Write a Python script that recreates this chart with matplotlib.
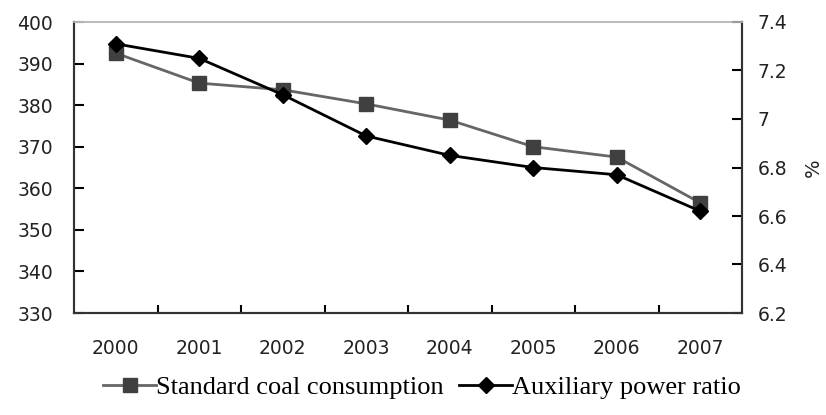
import matplotlib
matplotlib.use("Agg")
import matplotlib.pyplot as plt
import numpy as np

years = ['2000', '2001', '2002', '2003', '2004', '2005', '2006', '2007']
coal = [392.5, 385.3, 383.7, 380.3, 376.4, 370.0, 367.5, 356.5]
aux_ratio = [7.31, 7.25, 7.10, 6.93, 6.85, 6.80, 6.77, 6.62]

fig = plt.figure(figsize=(8.26, 4.15), dpi=100)
ax = fig.add_axes([74/826, 102/415, 668/826, 291/415])
ax2 = ax.twinx()

x = np.arange(len(years))
l1, = ax.plot(x, coal, color='#666666', lw=2, marker='s', ms=10,
              mfc='#404040', mec='#404040', label='Standard coal consumption')
l2, = ax2.plot(x, aux_ratio, color='black', lw=2, marker='D', ms=8,
               mfc='black', mec='black', label='Auxiliary power ratio')

ax.set_xlim(-0.5, 7.5)
ax.set_ylim(330, 400)
ax.set_yticks(np.arange(330, 401, 10))
ax2.set_ylim(6.2, 7.4)
ax2.set_yticks([6.2, 6.4, 6.6, 6.8, 7.0, 7.2, 7.4])
ax2.set_yticklabels(['6.2', '6.4', '6.6', '6.8', '7', '7.2', '7.4'])

ax.set_xticks(x)
ax.set_xticklabels(years)
ax.set_xticks(np.arange(0.5, 7.5, 1), minor=True)
ax.tick_params(axis='x', which='major', length=0, pad=19)
ax.tick_params(axis='x', which='minor', length=6, direction='in', width=1.5)

for lab in ax.get_xticklabels() + ax.get_yticklabels() + ax2.get_yticklabels():
    lab.set_fontfamily('DejaVu Sans')
    lab.set_fontsize(13.5)
    lab.set_color('#222222')
ax.tick_params(axis='y', direction='in', length=7, width=1.5, pad=15)
ax2.tick_params(axis='y', direction='in', length=7, width=1.5, pad=11)

for a in (ax, ax2):
    for s in ('left', 'bottom', 'right'):
        a.spines[s].set_linewidth(1.5)
        a.spines[s].set_color('#333333')
    a.spines['top'].set_color('#bbbbbb')
    a.spines['top'].set_linewidth(1.2)

ax2.set_ylabel('%', fontsize=14, family='DejaVu Sans', labelpad=12, color='#222222')

fig.legend(handles=[l1, l2], loc='center', bbox_to_anchor=(0.511, 0.067),
           ncol=2, frameon=False, handlelength=2.0, handletextpad=0.0,
           columnspacing=0.6, prop=dict(family='Liberation Serif', size=19))

plt.savefig('out.png', dpi=100)
